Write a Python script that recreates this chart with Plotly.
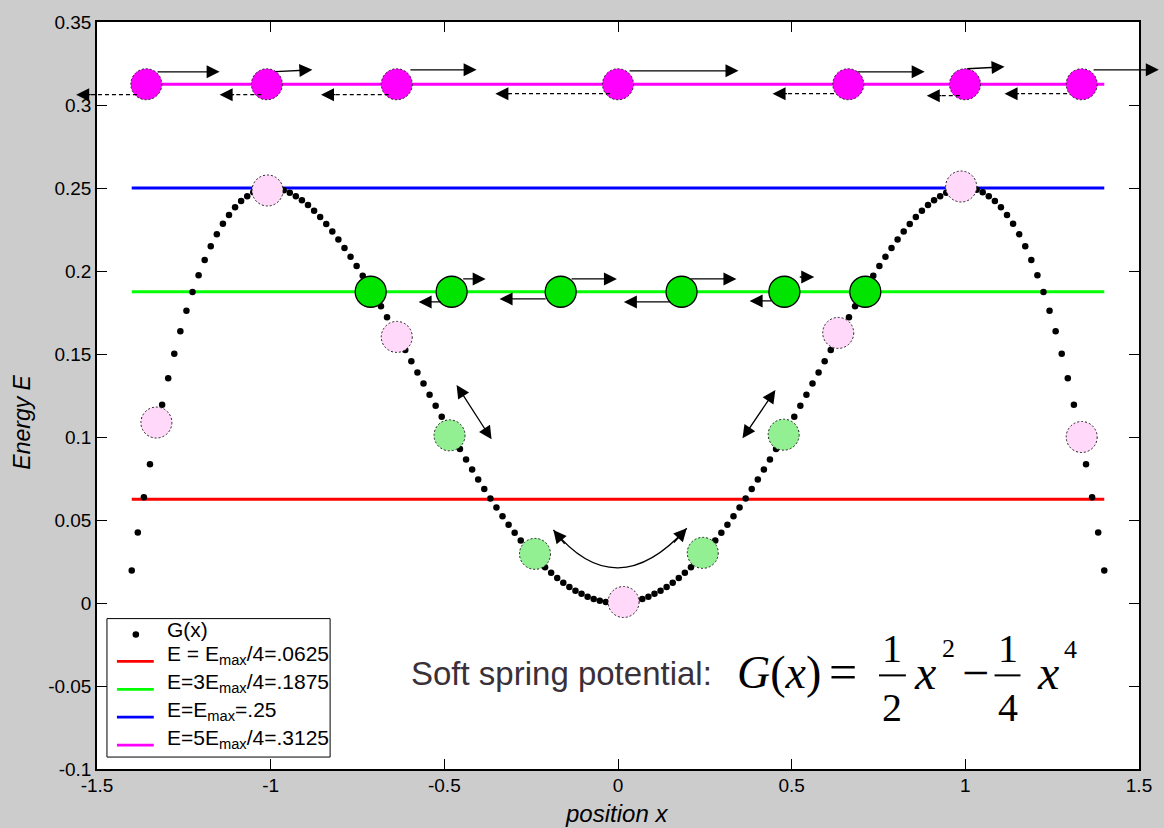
import plotly.graph_objects as go

# ---------------- data ----------------
G_x = [-1.4, -1.3825, -1.365, -1.3475, -1.33, -1.3125, -1.295, -1.2775, -1.26, -1.2425,
       -1.225, -1.2075, -1.19, -1.1725, -1.155, -1.1375, -1.12, -1.1025, -1.085, -1.0675,
       -1.05, -1.0325, -1.015, -0.9975, -0.98, -0.9625, -0.945, -0.9275, -0.91, -0.8925,
       -0.875, -0.8575, -0.84, -0.8225, -0.805, -0.7875, -0.77, -0.7525, -0.735, -0.7175,
       -0.7, -0.6825, -0.665, -0.6475, -0.63, -0.6125, -0.595, -0.5775, -0.56, -0.5425,
       -0.525, -0.5075, -0.49, -0.4725, -0.455, -0.4375, -0.42, -0.4025, -0.385, -0.3675,
       -0.35, -0.3325, -0.315, -0.2975, -0.28, -0.2625, -0.245, -0.2275, -0.21, -0.1925,
       -0.175, -0.1575, -0.14, -0.1225, -0.105, -0.0875, -0.07, -0.0525, -0.035, -0.0175,
       0.0,
       0.0175, 0.035, 0.0525, 0.07, 0.0875, 0.105, 0.1225, 0.14, 0.1575, 0.175,
       0.1925, 0.21, 0.2275, 0.245, 0.2625, 0.28, 0.2975, 0.315, 0.3325, 0.35,
       0.3675, 0.385, 0.4025, 0.42, 0.4375, 0.455, 0.4725, 0.49, 0.5075, 0.525,
       0.5425, 0.56, 0.5775, 0.595, 0.6125, 0.63, 0.6475, 0.665, 0.6825, 0.7,
       0.7175, 0.735, 0.7525, 0.77, 0.7875, 0.805, 0.8225, 0.84, 0.8575, 0.875,
       0.8925, 0.91, 0.9275, 0.945, 0.9625, 0.98, 0.9975, 1.015, 1.0325, 1.05,
       1.0675, 1.085, 1.1025, 1.12, 1.1375, 1.155, 1.1725, 1.19, 1.2075, 1.225,
       1.2425, 1.26, 1.2775, 1.295, 1.3125, 1.33, 1.3475, 1.365, 1.3825, 1.4]
G_y = [0.0196, 0.0424, 0.0637, 0.0836, 0.1022, 0.1194, 0.1354, 0.1501, 0.1637, 0.1761,
       0.1873, 0.1975, 0.2067, 0.2149, 0.2221, 0.2284, 0.2338, 0.2384, 0.2421, 0.2451,
       0.2474, 0.2489, 0.2498, 0.2500, 0.2496, 0.2486, 0.2471, 0.2451, 0.2426, 0.2397,
       0.2363, 0.2325, 0.2283, 0.2238, 0.2190, 0.2139, 0.2086, 0.2030, 0.1972, 0.1911,
       0.1850, 0.1787, 0.1722, 0.1657, 0.1591, 0.1524, 0.1457, 0.1389, 0.1322, 0.1255,
       0.1188, 0.1122, 0.1056, 0.0992, 0.0928, 0.0865, 0.0804, 0.0744, 0.0686, 0.0630,
       0.0575, 0.0522, 0.0472, 0.0423, 0.0377, 0.0333, 0.0291, 0.0252, 0.0216, 0.0182,
       0.0151, 0.0122, 0.0097, 0.0074, 0.0055, 0.0038, 0.0024, 0.0014, 0.0006, 0.0002,
       0.0,
       0.0002, 0.0006, 0.0014, 0.0024, 0.0038, 0.0055, 0.0074, 0.0097, 0.0122, 0.0151,
       0.0182, 0.0216, 0.0252, 0.0291, 0.0333, 0.0377, 0.0423, 0.0472, 0.0522, 0.0575,
       0.0630, 0.0686, 0.0744, 0.0804, 0.0865, 0.0928, 0.0992, 0.1056, 0.1122, 0.1188,
       0.1255, 0.1322, 0.1389, 0.1457, 0.1524, 0.1591, 0.1657, 0.1722, 0.1787, 0.1850,
       0.1911, 0.1972, 0.2030, 0.2086, 0.2139, 0.2190, 0.2238, 0.2283, 0.2325, 0.2363,
       0.2397, 0.2426, 0.2451, 0.2471, 0.2486, 0.2496, 0.2500, 0.2498, 0.2489, 0.2474,
       0.2451, 0.2421, 0.2384, 0.2338, 0.2284, 0.2221, 0.2149, 0.2067, 0.1975, 0.1873,
       0.1761, 0.1637, 0.1501, 0.1354, 0.1194, 0.1022, 0.0836, 0.0637, 0.0424, 0.0196]

E_values = [0.0625, 0.1875, 0.25, 0.3125]
E_names = ["E = E<sub>max</sub>/4=.0625", "E=3E<sub>max</sub>/4=.1875",
           "E=E<sub>max</sub>=.25", "E=5E<sub>max</sub>/4=.3125"]
E_colors = ["#ff0000", "#00ff00", "#0000ff", "#ff00ff"]
E_x = [-1.4, 1.4]
G_name = "G(x)"

mag_x = [-1.358, -1.011, -0.637, 0.0, 0.663, 0.999, 1.335]
mag_y = [0.3125, 0.3125, 0.3125, 0.3125, 0.3125, 0.3125, 0.3125]
grn_x = [-0.712, -0.479, -0.165, 0.183, 0.479, 0.712]
grn_y = [0.1875, 0.1875, 0.1875, 0.1875, 0.1875, 0.1875]
pink_x = [-1.329, -1.009, -0.637, 0.016, 0.634, 0.988, 1.335]
pink_y = [0.1087, 0.2485, 0.1603, 0.0006, 0.1627, 0.2509, 0.1000]
lgrn_x = [-0.485, -0.239, 0.244, 0.477]
lgrn_y = [0.1010, 0.0296, 0.0302, 0.1014]

# solid arrows (tail -> head)
sol_tx = [-1.330, -0.990, -0.602, 0.029, 0.685, 1.001, 1.365,
          -0.450, -0.505, -0.138, -0.204, 0.206, 0.155, 0.519, 0.445]
sol_ty = [0.3200, 0.3200, 0.3212, 0.3206, 0.3200, 0.3218, 0.3212,
          0.1952, 0.1814, 0.1952, 0.1832, 0.1952, 0.1814, 0.1964, 0.1820]
sol_hx = [-1.147, -0.880, -0.407, 0.347, 0.883, 1.113, 1.557,
          -0.381, -0.574, -0.003, -0.341, 0.341, 0.017, 0.565, 0.379]
sol_hy = [0.3200, 0.3212, 0.3212, 0.3206, 0.3200, 0.3230, 0.3212,
          0.1952, 0.1814, 0.1952, 0.1832, 0.1952, 0.1814, 0.1964, 0.1820]

# dashed arrows (tail -> head)
dsh_tx = [-1.385, -1.027, -0.660, -0.023, 0.622, 0.984, 1.293]
dsh_ty = [0.3062, 0.3062, 0.3062, 0.3068, 0.3068, 0.3056, 0.3068]
dsh_hx = [-1.560, -1.147, -0.855, -0.353, 0.445, 0.889, 1.113]
dsh_hy = [0.3062, 0.3062, 0.3062, 0.3068, 0.3068, 0.3056, 0.3068]

# double-headed arrows (end A <-> end B)
dbl_ax = [-0.4675, 0.456]
dbl_ay = [0.1322, 0.1292]
dbl_bx = [-0.364, 0.3585]
dbl_by = [0.0986, 0.0992]

# curved double arrow (quadratic Bezier: start, control, end)
crv_x = [-0.186, -0.006, 0.198]
crv_y = [0.044, -0.0022, 0.045]

x_tickvals = [-1.5, -1, -0.5, 0, 0.5, 1, 1.5]
x_ticktext = ["-1.5", "-1", "-0.5", "0", "0.5", "1", "1.5"]
y_tickvals = [-0.1, -0.05, 0, 0.05, 0.1, 0.15, 0.2, 0.25, 0.3, 0.35]
y_ticktext = ["-0.1", "-0.05", "0", "0.05", "0.1", "0.15", "0.2", "0.25", "0.3", "0.35"]

X_RANGE = [-1.5, 1.5]
Y_RANGE = [-0.1, 0.35]

# ---------------- layout helpers ----------------
W, H = 1164, 828
ML, MR, MT, MB = 97, 21, 19, 59
PW, PH = W - ML - MR, H - MT - MB


def d2p_x(x):
    return (x - X_RANGE[0]) / (X_RANGE[1] - X_RANGE[0])


def d2p_y(y):
    return (y - Y_RANGE[0]) / (Y_RANGE[1] - Y_RANGE[0])


def px2p_x(px):
    return (px - ML) / PW


def py2p_y(py):
    return (MT + PH - py) / PH


SANS = "Arial, Liberation Sans, Helvetica, sans-serif"
SERIF = "Times New Roman, Liberation Serif, serif"

fig = go.Figure()

for ev, nm, col in zip(E_values, E_names, E_colors):
    fig.add_trace(go.Scatter(x=E_x, y=[ev, ev], mode="lines", name=nm,
                             line=dict(color=col, width=2.8), showlegend=False,
                             hoverinfo="skip"))

fig.add_trace(go.Scatter(x=G_x, y=G_y, mode="markers", name=G_name,
                         marker=dict(color="black", size=6.5), showlegend=False,
                         hoverinfo="skip"))

shapes = []


def circle(x, y, fill, dash, lw=1.0, r=15.5, lc="#222222", xref="x", yref="y"):
    return dict(type="circle", xref=xref, yref=yref, xsizemode="pixel", ysizemode="pixel",
                xanchor=x, yanchor=y, x0=-r, x1=r, y0=-r, y1=r,
                fillcolor=fill, line=dict(color=lc, width=lw, dash=dash), layer="above")


for x, y in zip(pink_x, pink_y):
    shapes.append(circle(x, y, "#ffd8fa", "2px,2px"))
for x, y in zip(lgrn_x, lgrn_y):
    shapes.append(circle(x, y, "#92ef92", "2px,2px"))
for x, y in zip(grn_x, grn_y):
    shapes.append(circle(x, y, "#00e400", "solid", lw=1.3, lc="black"))
for x, y in zip(mag_x, mag_y):
    shapes.append(circle(x, y, "#ff00ff", "2px,2px"))

annotations = []
AH = dict(showarrow=True, arrowhead=2, arrowsize=2.0, arrowwidth=1.3,
          arrowcolor="black", text="", standoff=0)

# solid arrows
for tx, ty, hx, hy in zip(sol_tx, sol_ty, sol_hx, sol_hy):
    annotations.append(dict(x=hx, y=hy, ax=tx, ay=ty, xref="x", yref="y",
                            axref="x", ayref="y", **AH))

# dashed arrows: dashed shaft + short head
for tx, ty, hx, hy in zip(dsh_tx, dsh_ty, dsh_hx, dsh_hy):
    shapes.append(dict(type="line", xref="paper", yref="paper",
                       x0=d2p_x(tx), y0=d2p_y(ty), x1=d2p_x(hx) + 6 / PW, y1=d2p_y(hy),
                       line=dict(color="black", width=1.3, dash="4px,3px"), layer="above"))
    annotations.append(dict(x=d2p_x(hx), y=d2p_y(hy), xref="paper", yref="paper",
                            axref="pixel", ayref="pixel", ax=16, ay=0, **AH))

# double-headed arrows
for axx, ayy, bxx, byy in zip(dbl_ax, dbl_ay, dbl_bx, dbl_by):
    annotations.append(dict(x=bxx, y=byy, ax=axx, ay=ayy, xref="x", yref="y",
                            axref="x", ayref="y", arrowside="end+start",
                            startarrowhead=2, startarrowsize=2.0, **AH))

# curved arrow
shapes.append(dict(type="path", xref="x", yref="y", layer="above",
                   path="M {},{} Q {},{} {},{}".format(crv_x[0], crv_y[0], crv_x[1], crv_y[1],
                                                       crv_x[2], crv_y[2]),
                   line=dict(color="black", width=1.3)))
for end in (0, 2):
    tx = crv_x[end] + 0.2 * (crv_x[1] - crv_x[end])
    ty = crv_y[end] + 0.2 * (crv_y[1] - crv_y[end])
    annotations.append(dict(x=crv_x[end], y=crv_y[end], ax=tx, ay=ty, xref="x", yref="y",
                            axref="x", ayref="y", **AH))


def txt(s, px, py, size, family, color="black", xanchor="center", textangle=0, pad=1):
    return dict(text=s, x=px2p_x(px), y=py2p_y(py), xref="paper", yref="paper",
                showarrow=False, xanchor=xanchor, yanchor="middle", textangle=textangle,
                borderpad=pad, font=dict(size=size, family=family, color=color))


# ---- legend (drawn box) ----
shapes.append(dict(type="rect", xref="paper", yref="paper", layer="above",
                   x0=px2p_x(107), x1=px2p_x(331), y0=py2p_y(757), y1=py2p_y(618),
                   fillcolor="white", line=dict(color="black", width=1)))
shapes.append(circle(px2p_x(136), py2p_y(634), "black", "solid", lw=0, r=3.3,
                     lc="black", xref="paper", yref="paper"))
annotations.append(txt(G_name, 166, 629, 21, SANS, xanchor="left", pad=0))
for i, (nm, col) in enumerate(zip(E_names, E_colors)):
    ly = 661 + 28 * i
    shapes.append(dict(type="line", xref="paper", yref="paper", layer="above",
                       x0=px2p_x(117), x1=px2p_x(154), y0=py2p_y(ly), y1=py2p_y(ly),
                       line=dict(color=col, width=2.8)))
    annotations.append(txt(nm, 166, ly - 6, 21, SANS, xanchor="left", pad=0))

# ---- formula text ----
annotations.append(txt("Soft spring potential:", 410, 673, 33, SANS, color="#3a3038", xanchor="left"))
annotations.append(txt("<i>G</i>(<i>x</i>)", 737, 672, 46, SERIF, xanchor="left"))
annotations.append(txt("=", 846, 672, 50, SERIF))
annotations.append(txt("1", 895, 648, 40, SERIF))
annotations.append(txt("2", 895, 707, 40, SERIF))
annotations.append(txt("<i>x</i>", 928, 672, 48, SERIF))
annotations.append(txt("2", 952, 648, 26, SERIF))
annotations.append(txt("\u2212", 979, 672, 48, SERIF))
annotations.append(txt("1", 1011, 648, 40, SERIF))
annotations.append(txt("4", 1011, 707, 40, SERIF))
annotations.append(txt("<i>x</i>", 1052, 672, 48, SERIF))
annotations.append(txt("4", 1074, 649, 26, SERIF))
for x0, x1 in ((882, 909), (998, 1024)):
    shapes.append(dict(type="line", xref="paper", yref="paper",
                       x0=px2p_x(x0), x1=px2p_x(x1), y0=py2p_y(675), y1=py2p_y(675),
                       line=dict(color="black", width=2), layer="above"))

# axis titles
annotations.append(txt("<i>position x</i>", 618, 814, 24, SANS))
annotations.append(txt("<i>Energy E</i>", 22, 421, 23, SANS, textangle=-90))

axis_common = dict(showline=True, linecolor="black", linewidth=1.5, mirror="ticks",
                   ticks="inside", ticklen=10, tickwidth=1, tickcolor="black",
                   showgrid=False, zeroline=False,
                   tickfont=dict(family=SANS, size=19, color="black"))

fig.update_layout(
    width=W, height=H,
    margin=dict(l=ML, r=MR, t=MT, b=MB, pad=0),
    paper_bgcolor="#cccccc", plot_bgcolor="white",
    xaxis=dict(range=X_RANGE, tickvals=x_tickvals, ticktext=x_ticktext,
               ticklabelstandoff=-2, **axis_common),
    yaxis=dict(range=Y_RANGE, tickvals=y_tickvals, ticktext=y_ticktext, **axis_common),
    showlegend=False,
    shapes=shapes, annotations=annotations, hovermode=False,
)

fig.write_html("out.html", config={"displayModeBar": False},
               post_script="document.body.style.margin='0px';document.body.style.overflow='hidden';")
